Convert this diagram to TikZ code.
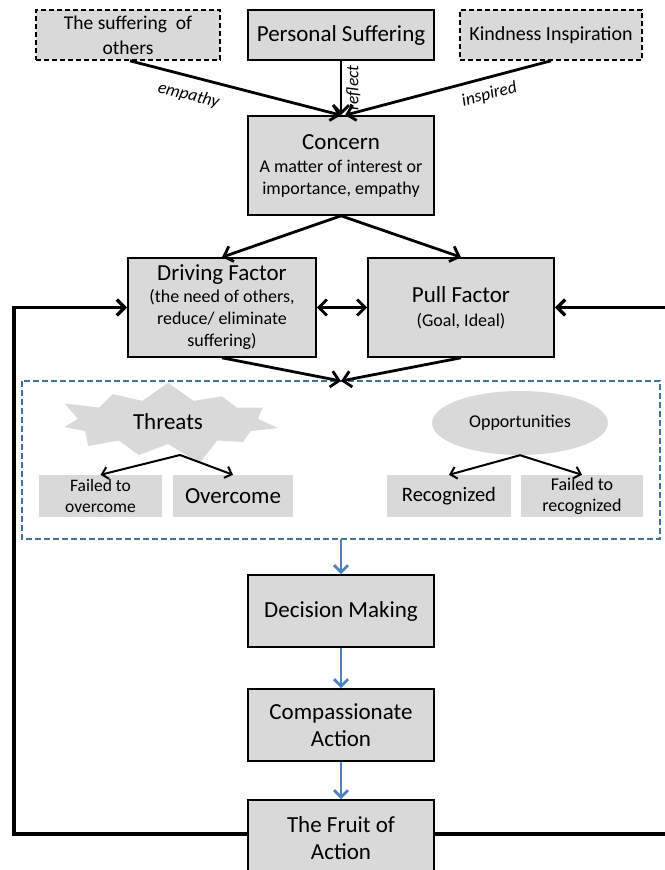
\documentclass[tikz,border=0pt]{standalone}
\usepackage{fontspec}
\setmainfont{Carlito}
\usetikzlibrary{arrows.meta,shapes.symbols,shapes.geometric}
\definecolor{boxgray}{HTML}{D9D9D9}
\definecolor{flowblue}{HTML}{4F81BD}
\definecolor{dashblue}{HTML}{41719C}
\newcommand{\headsize}{\fontsize{23}{26}\selectfont}
\newcommand{\subsize}{\fontsize{18}{22}\selectfont}
\tikzstyle{every node}=[align=center,inner sep=0pt]
\tikzstyle{stepbox}=[draw=black,line width=1.6pt,fill=boxgray]
\tikzstyle{dashbox}=[stepbox,dash pattern=on 5pt off 3pt]
\tikzstyle{plainbox}=[fill=boxgray,minimum width=122pt,minimum height=42pt]
\tikzstyle{link}=[line width=2.8pt,-{Straight Barb[length=8pt,width=16pt]}]
\tikzstyle{sublink}=[line width=2pt,-{Straight Barb[length=6pt,width=12pt]}]
\tikzstyle{flow}=[draw=flowblue,line width=2.8pt,-{Straight Barb[length=7pt,width=14pt]}]
\tikzstyle{lbl}=[font=\fontsize{17.5}{20}\selectfont\itshape]

\begin{document}
\begin{tikzpicture}[x=1pt,y=-1pt]
  \useasboundingbox (0,0) rectangle (664,870);
  \node [dashbox,minimum width=184pt,minimum height=50pt,font=\fontsize{19.5}{25}\selectfont]
        (others) at (128,35) {The suffering\ \ of\\ others};
  \node [stepbox,minimum width=186pt,minimum height=50pt,font=\headsize]
        (personal) at (341,35) {Personal Suffering};
  \node [dashbox,minimum width=182pt,minimum height=50pt,font=\fontsize{20}{22}\selectfont]
        (kindness) at (551,35) {Kindness Inspiration};
  \node [stepbox,minimum width=186pt,minimum height=99pt,font=\subsize]
        (concern) at (341,165.5) {{\headsize Concern}\\[1pt] A matter of interest or\\ importance, empathy};
  \node [stepbox,minimum width=188pt,minimum height=99pt,font=\fontsize{18}{22}\selectfont]
        (driving) at (222,307.5) {{\headsize Driving Factor}\\ (the need of others,\\ reduce/ eliminate\\ suffering)};
  \node [stepbox,minimum width=186pt,minimum height=99pt,font=\subsize]
        (pull) at (461,307.5) {{\headsize Pull Factor}\\[2pt] (Goal, Ideal)};

  % threats and opportunities
  \draw [dashblue,line width=1.6pt,dash pattern=on 6pt off 3pt] (22,381) rectangle (660,539);
  \coordinate (boxtop) at (341,381);
  \coordinate (boxbottom) at (341,539);
  \node [starburst,fill=boxgray,starburst points=11,starburst point height=24pt,
         minimum width=230pt,minimum height=92pt,font=\headsize] (threats) at (168,422) {Threats};
  \node [plainbox,minimum width=123pt,font=\fontsize{17.5}{21}\selectfont]
        (failover) at (100.5,496) {Failed to\\ overcome};
  \node [plainbox,minimum width=120pt,font=\headsize] (overcome) at (233,496) {Overcome};
  \node [ellipse,fill=boxgray,minimum width=176pt,minimum height=64pt,font=\subsize]
        (opport) at (520,423) {Opportunities};
  \node [plainbox,minimum width=124pt,font=\fontsize{20.5}{22}\selectfont]
        (recog) at (449,496) {Recognized};
  \node [plainbox,minimum width=122pt,font=\fontsize{18}{21}\selectfont]
        (failrec) at (582,496) {Failed to\\ recognized};

  \node [stepbox,minimum width=186pt,minimum height=72pt,font=\headsize]
        (decision) at (341,611) {Decision Making};
  \node [stepbox,minimum width=186pt,minimum height=72pt,font=\fontsize{23}{27}\selectfont]
        (compassion) at (341,725) {Compassionate\\ Action};
  \node [stepbox,minimum width=186pt,minimum height=76pt,font=\fontsize{23}{27}\selectfont]
        (fruit) at (341,838) {The Fruit of\\ Action};

  % arrows
  \draw [link] (others.south) +(2,0) -- (concern.north)
        node [lbl,pos=0.3,below=10pt,sloped] {empathy};
  \draw [link] (personal.south) -- (concern.north)
        node [lbl,midway,rotate=90,anchor=north,inner sep=4pt] {reflect};
  \draw [link] (kindness.south) -- ([xshift=4pt]concern.north)
        node [lbl,pos=0.32,below=8pt,sloped] {inspired};
  \draw [link] (concern.south) -- (driving.north);
  \draw [link] (concern.south) -- (pull.north);
  \draw [link,{Straight Barb[length=8pt,width=16pt]}-{Straight Barb[length=8pt,width=16pt]}]
        (driving.east) -- (pull.west);
  \draw [link] (driving.south) -- (boxtop);
  \draw [link] (pull.south) -- (boxtop);
  \draw [sublink] (180,455) -- (failover.north);
  \draw [sublink] (180,455) -- (overcome.north);
  \draw [sublink] (opport.south) -- (recog.north);
  \draw [sublink] (opport.south) -- (failrec.north);
  \draw [flow] (boxbottom) -- (decision.north);
  \draw [flow] (decision.south) -- (compassion.north);
  \draw [flow] (compassion.south) -- (fruit.north);

  % feedback loop
  \coordinate (loopleft) at (14,834);
  \coordinate (loopright) at (668,834);
  \draw [link,line width=3.4pt] (fruit.west |- loopleft) -- (loopleft) |- (driving.west);
  \draw [link,line width=3.4pt] (fruit.east |- loopright) -- (loopright) |- (pull.east);
\end{tikzpicture}
\end{document}
